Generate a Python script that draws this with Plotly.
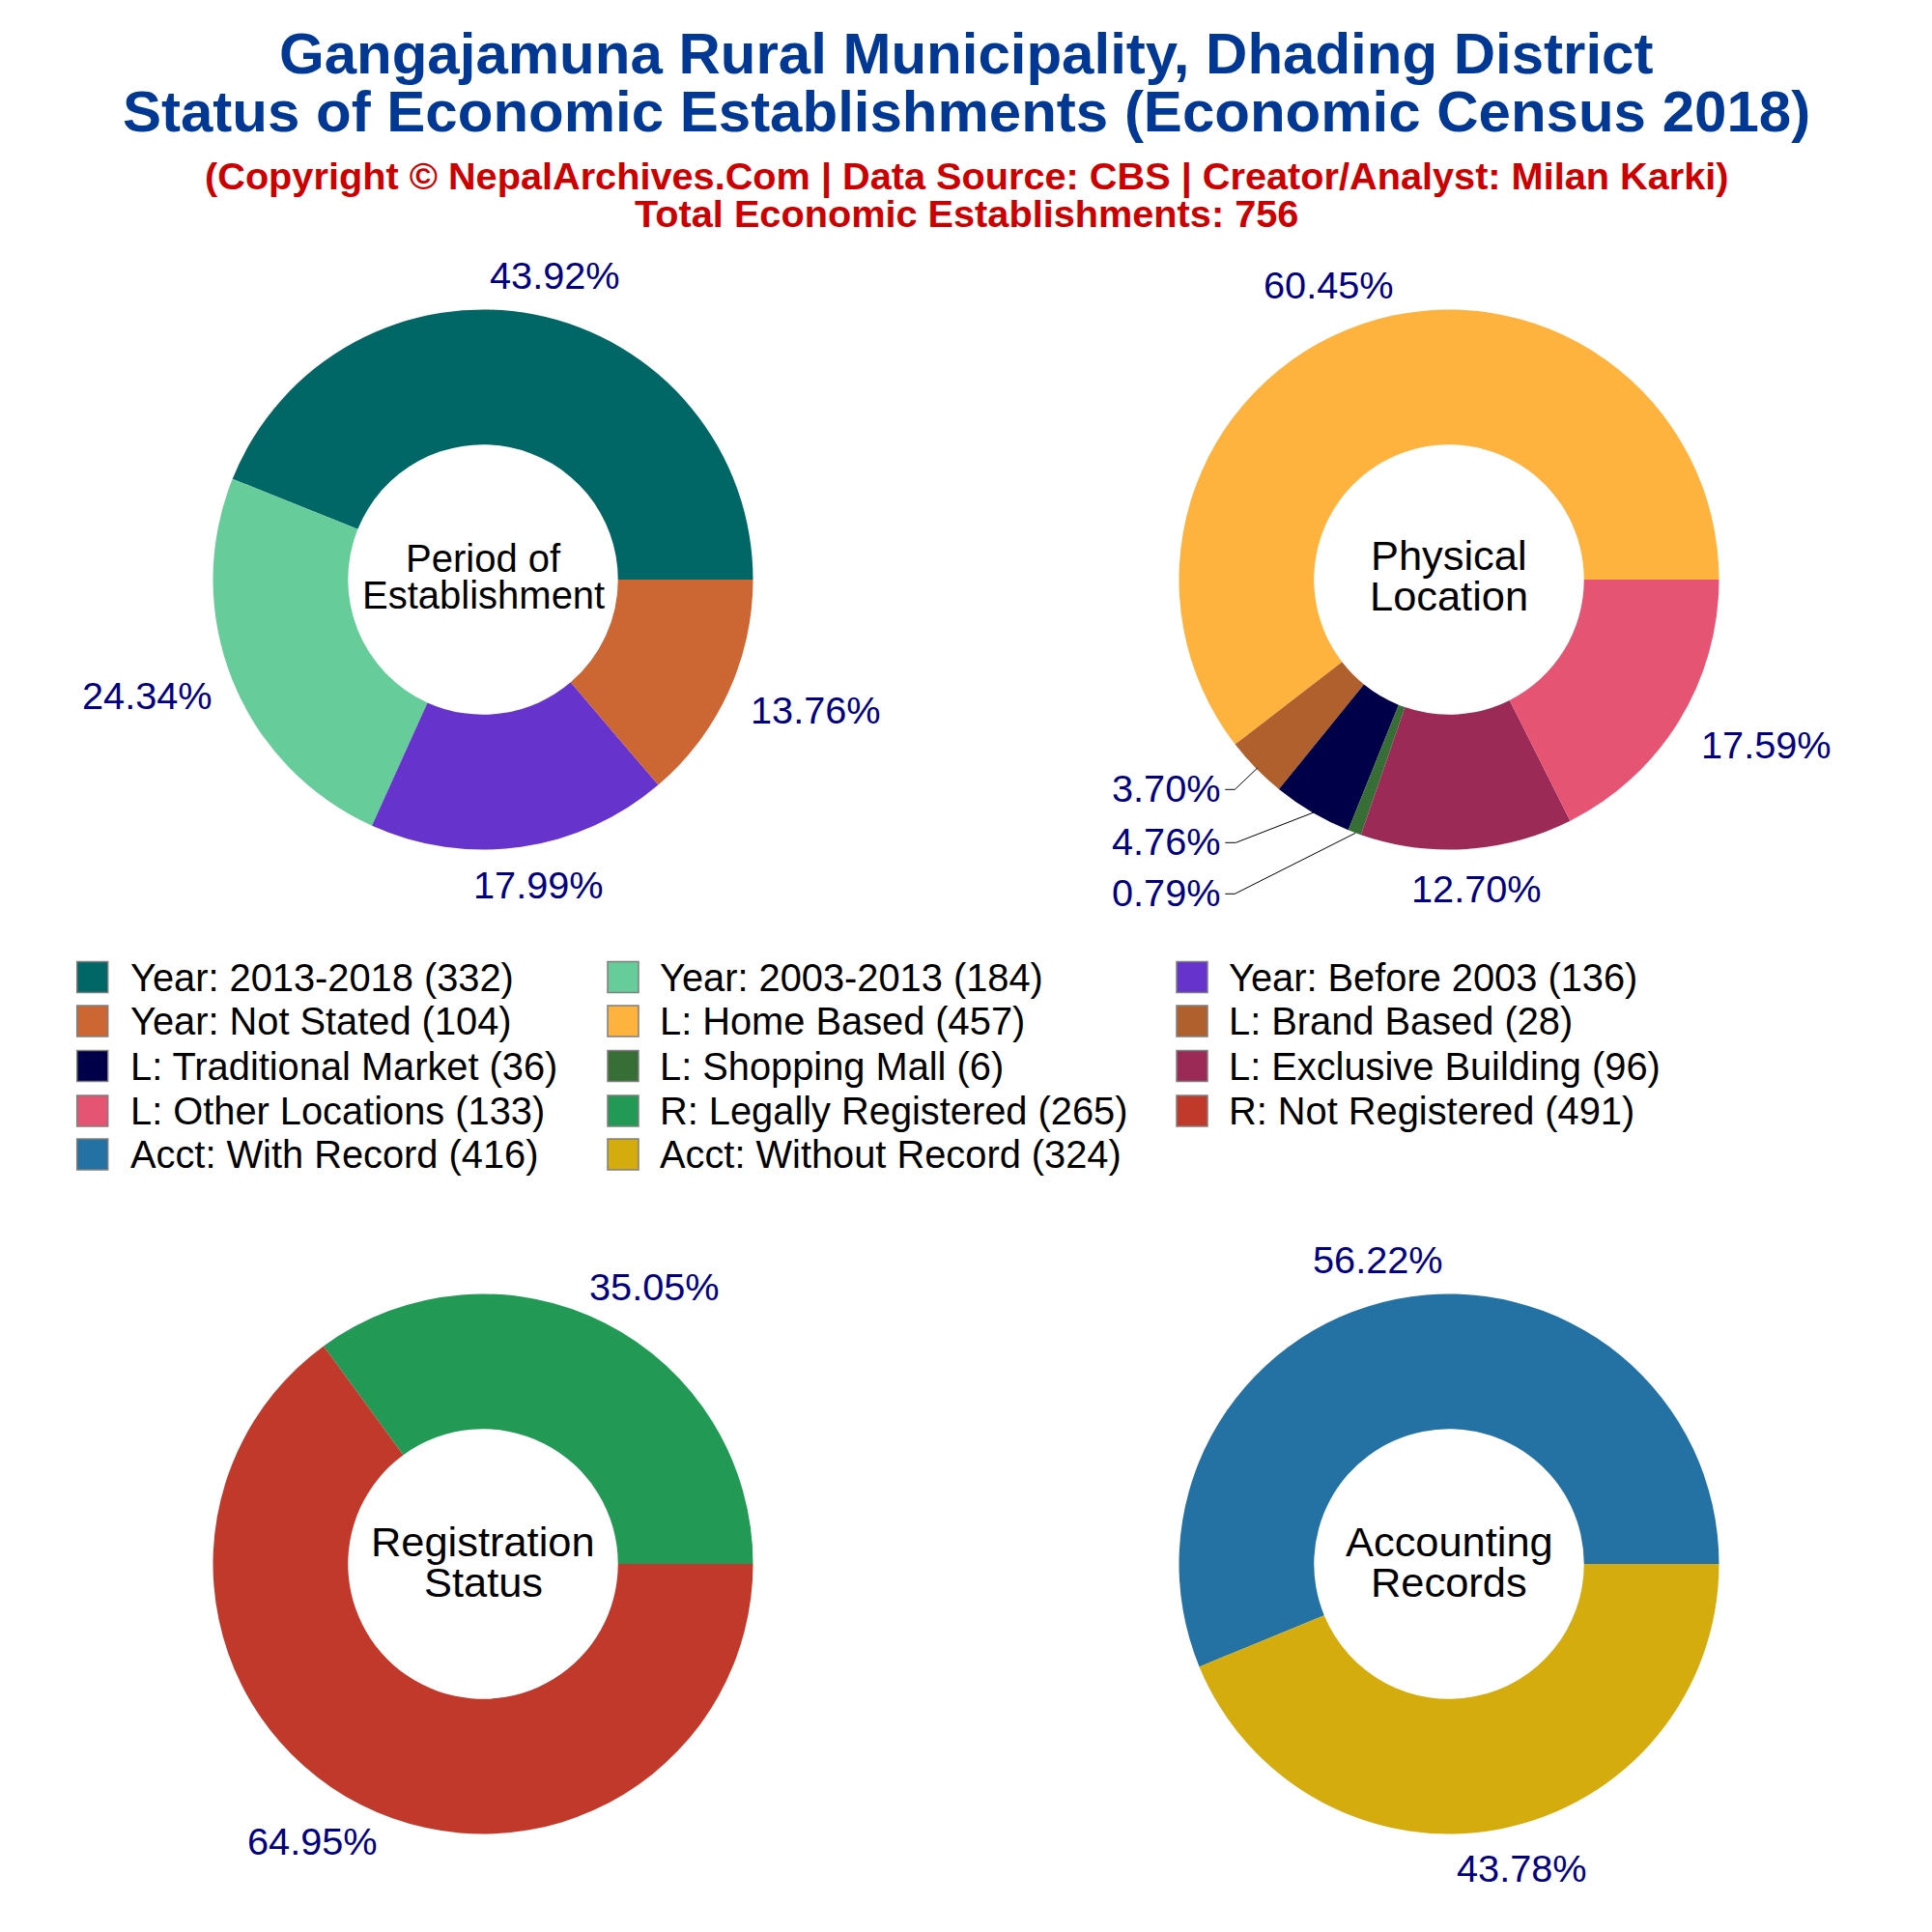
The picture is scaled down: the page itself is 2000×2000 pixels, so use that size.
import plotly.graph_objects as go

# ---- data ----
period_labels = ["Year: 2013-2018", "Year: 2003-2013", "Year: Before 2003", "Year: Not Stated"]
period_values = [332, 184, 136, 104]
period_colors = ["#006666", "#66CC99", "#6633CC", "#CC6633"]

location_labels = ["L: Home Based", "L: Brand Based", "L: Traditional Market", "L: Shopping Mall",
                   "L: Exclusive Building", "L: Other Locations"]
location_values = [457, 28, 36, 6, 96, 133]
location_colors = ["#FFB33F", "#B0602D", "#000048", "#366E36", "#9C2A56", "#E55472"]

register_labels = ["R: Legally Registered", "R: Not Registered"]
register_values = [265, 491]
register_colors = ["#229954", "#C0392B"]

account_labels = ["Acct: With Record", "Acct: Without Record"]
account_values = [416, 324]
account_colors = ["#2471A3", "#D4AC0D"]

title_lines = ["Gangajamuna Rural Municipality, Dhading District",
               "Status of Economic Establishments (Economic Census 2018)"]
sub_lines = ["(Copyright © NepalArchives.Com | Data Source: CBS | Creator/Analyst: Milan Karki)",
             "Total Economic Establishments: 756"]
center_lines = [["Period of", "Establishment"], ["Physical", "Location"],
                ["Registration", "Status"], ["Accounting", "Records"]]

# ---- layout helpers (pixel -> paper) ----
W = H = 2000
FONT = "Liberation Sans, Arial, sans-serif"
px = lambda x: x / W
py = lambda y: 1 - y / H

groups = [
    (period_labels, period_values, period_colors, (500, 600)),
    (location_labels, location_values, location_colors, (1500, 600)),
    (register_labels, register_values, register_colors, (500, 1619)),
    (account_labels, account_values, account_colors, (1500, 1619)),
]
RADIUS = 279.5

fig = go.Figure()
for labels, values, colors, (cx, cy) in groups:
    fig.add_trace(go.Pie(
        labels=labels, values=values, hole=0.5, sort=False,
        direction="counterclockwise",
        # plotly ends the first counter-clockwise slice at `rotation`; it must start at 3 o'clock
        rotation=90 - 360 * values[0] / sum(values),
        marker=dict(colors=colors, line=dict(width=0)),
        textinfo="none", showlegend=False, hoverinfo="label+value+percent",
        domain=dict(x=[px(cx - RADIUS), px(cx + RADIUS)],
                    y=[py(cy + RADIUS), py(cy - RADIUS)]),
    ))

annotations = []
shapes = []

def text(x, y, s, size, color="#000000", anchor="center"):
    annotations.append(dict(x=px(x), y=py(y), xref="paper", yref="paper", text=s, showarrow=False,
                            xanchor=anchor, yanchor="middle", borderpad=0,
                            font=dict(family=FONT, size=size, color=color)))

# titles
TITLE_BLUE = "#003893"
SUB_RED = "#CC0000"
text(1000, 55.5, f"<b>{title_lines[0]}</b>", 60, TITLE_BLUE)
text(1000.5, 115.5, f"<b>{title_lines[1]}</b>", 60, TITLE_BLUE)
text(1000.5, 182.5, f"<b>{sub_lines[0]}</b>", 39.7, SUB_RED)
text(1000.5, 221, f"<b>{sub_lines[1]}</b>", 39.7, SUB_RED)

# centre captions
center_pos = [((500, 578), (500, 616), 40), ((1500, 575), (1500, 617), 43.4),
              ((500, 1596), (500, 1638), 43.4), ((1500, 1596), (1500, 1638), 43.4)]
for lines, (p1, p2, size) in zip(center_lines, center_pos):
    text(p1[0], p1[1], lines[0], size)
    text(p2[0], p2[1], lines[1], size)

# percent labels, in slice order for each donut
pct_pos = [
    [(574, 285), (152, 720), (557, 916), (844, 735)],
    [(1375, 295), (1207, 816), (1207, 871), (1207, 924), (1528, 920), (1828, 771)],
    [(677, 1332), (323, 1906)],
    [(1426, 1304), (1575, 1934)],
]
NAVY = "#000080"
for (labels, values, colors, _), positions in zip(groups, pct_pos):
    total = sum(values)
    for v, (x, y) in zip(values, positions):
        text(x, y, f"{v / total * 100:.2f}%", 39.7, NAVY)

# leader lines
leaders = [
    [(1268.3, 817.3), (1278.3, 817.3), (1301.7, 795)],
    [(1268.3, 872.3), (1279.3, 872.3), (1360, 841)],
    [(1268.3, 925.3), (1278.3, 925.3), (1403.3, 862.3)],
]
for pts in leaders:
    path = "M " + " L ".join(f"{px(x)} {py(y)}" for x, y in pts)
    shapes.append(dict(type="path", xref="paper", yref="paper", path=path,
                       line=dict(color="#000000", width=1)))

# legend: 3 columns, row by row
col_swatch = [79.7, 629, 1218]
col_text = [133.5, 682, 1271]
row_y = [1011.5, 1057, 1103.5, 1150, 1195]
SW = 32
legend_items = []
for labels, values, colors, _ in groups:
    legend_items += list(zip(labels, values, colors))
for i, (lab, val, col) in enumerate(legend_items):
    c = i % 3
    r = i // 3
    y = row_y[r]
    shapes.append(dict(type="rect", xref="paper", yref="paper",
                       x0=px(col_swatch[c]), x1=px(col_swatch[c] + SW),
                       y0=py(y + SW / 2), y1=py(y - SW / 2),
                       fillcolor=col, line=dict(color="#7F7F7F", width=1.5)))
    text(col_text[c], y, f"{lab} ({val})", 39.8, "#000000", anchor="left")

fig.update_layout(width=W, height=H, margin=dict(l=0, r=0, t=0, b=0), autosize=False,
                  paper_bgcolor="white", plot_bgcolor="white", showlegend=False,
                  annotations=annotations, shapes=shapes)
fig.write_html("out.html", config=dict(displayModeBar=False),
               post_script="document.body.style.margin='0';")
